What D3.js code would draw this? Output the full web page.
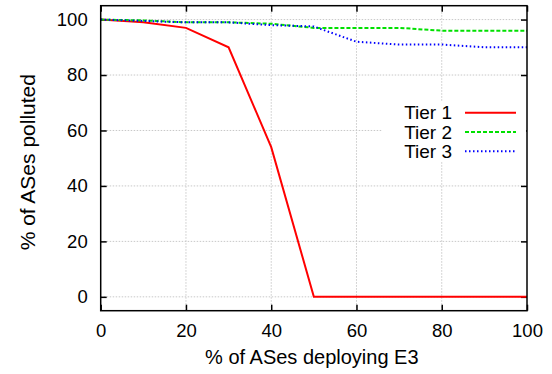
<!DOCTYPE html>
<html>
<head>
<meta charset="utf-8">
<script src="https://cdn.jsdelivr.net/npm/d3@7"></script>
<style>
  html, body { margin: 0; padding: 0; background: #fff; }
  svg { display: block; }
</style>
</head>
<body>
<svg id="chart"></svg>
<script>
// deployment share (x) and pollution per tier
const deploy = [0, 10, 20, 30, 40, 50, 60, 70, 80, 90, 100];
const tier1 = [100, 99, 97, 90, 54, 0, 0, 0, 0, 0, 0];
const tier2 = [100, 99.7, 99, 99, 98.5, 97, 97, 97, 96, 96, 96];
const tier3 = [100, 99.5, 99, 99, 98, 97.5, 92, 91, 91, 90, 90];
const seriesNames = ['Tier 1', 'Tier 2', 'Tier 3'];
const xTicks = [0, 20, 40, 60, 80, 100];
const yTicks = [0, 20, 40, 60, 80, 100];

const W = 552, H = 374;
const m = { left: 100.7, right: 25, top: 5.7, bottom: 63.3 };
const font = 'Liberation Sans, Arial, Helvetica, sans-serif';

const svg = d3.select('#chart').attr('width', W).attr('height', H);

const x = d3.scaleLinear().domain([0, 100]).range([m.left, W - m.right]);
const y = d3.scaleLinear().domain([-5, 105]).range([H - m.bottom, m.top]);

// grid
const grid = svg.append('g')
  .attr('stroke', '#c8c8c8').attr('stroke-width', 1).attr('stroke-dasharray', '1.5,1.5');
xTicks.slice(1, -1).forEach(t => {
  grid.append('line').attr('x1', x(t)).attr('x2', x(t)).attr('y1', y(-5)).attr('y2', y(105));
});
yTicks.forEach(t => {
  grid.append('line').attr('x1', x(0)).attr('x2', x(100)).attr('y1', y(t)).attr('y2', y(t));
});

// axes with inward ticks
const axisStyle = g => {
  g.select('.domain').remove();
  g.selectAll('.tick line').attr('stroke', '#000').attr('stroke-width', 1.5);
  g.selectAll('.tick text').attr('font-family', font).attr('font-size', '18.5px').attr('fill', '#000');
};
svg.append('g').attr('transform', `translate(0,${y(-5)})`)
  .call(d3.axisBottom(x).tickValues(xTicks).tickSizeInner(-6).tickPadding(13))
  .call(axisStyle);
svg.append('g').attr('transform', `translate(0,${y(105)})`)
  .call(d3.axisTop(x).tickValues(xTicks).tickSizeInner(-6).tickFormat(''))
  .call(axisStyle);
svg.append('g').attr('transform', `translate(${x(0)},0)`)
  .call(d3.axisLeft(y).tickValues(yTicks).tickSizeInner(-6).tickPadding(13))
  .call(axisStyle);
svg.append('g').attr('transform', `translate(${x(100)},0)`)
  .call(d3.axisRight(y).tickValues(yTicks).tickSizeInner(-6).tickFormat(''))
  .call(axisStyle);

// legend box background (hides grid)
svg.append('rect')
  .attr('x', 382).attr('y', 101).attr('width', x(100) - 383).attr('height', 60)
  .attr('fill', '#fff');

// lines
const series = [
  { name: seriesNames[0], values: tier1, color: '#ff0000', dash: null },
  { name: seriesNames[1], values: tier2, color: '#00e000', dash: '4,2' },
  { name: seriesNames[2], values: tier3, color: '#0000ff', dash: '1.5,2.5' },
];
const line = d3.line().x((d, i) => x(deploy[i])).y(d => y(d));
series.forEach(s => {
  svg.append('path')
    .attr('d', line(s.values))
    .attr('fill', 'none')
    .attr('stroke', s.color)
    .attr('stroke-width', 2)
    .attr('stroke-dasharray', s.dash);
});

// legend
series.forEach((s, i) => {
  const ly = 112.7 + i * 19.3;
  svg.append('text')
    .attr('x', 452).attr('y', ly + 6.5)
    .attr('text-anchor', 'end')
    .attr('font-family', font).attr('font-size', '19px')
    .text(s.name);
  svg.append('line')
    .attr('x1', 465).attr('x2', 516).attr('y1', ly).attr('y2', ly)
    .attr('stroke', s.color).attr('stroke-width', 2)
    .attr('stroke-dasharray', s.dash);
});

// frame
svg.append('rect')
  .attr('x', x(0)).attr('y', y(105))
  .attr('width', x(100) - x(0)).attr('height', y(-5) - y(105))
  .attr('fill', 'none').attr('stroke', '#000').attr('stroke-width', 1.5);

// titles
svg.append('text')
  .attr('x', (x(0) + x(100)) / 2 - 2).attr('y', 364)
  .attr('text-anchor', 'middle')
  .attr('font-family', font).attr('font-size', '20px')
  .text('% of ASes deploying E3');
svg.append('text')
  .attr('transform', `translate(35,${(y(-5) + y(105)) / 2 + 4}) rotate(-90)`)
  .attr('text-anchor', 'middle')
  .attr('font-family', font).attr('font-size', '21px')
  .text('% of ASes polluted');
</script>
</body>
</html>
